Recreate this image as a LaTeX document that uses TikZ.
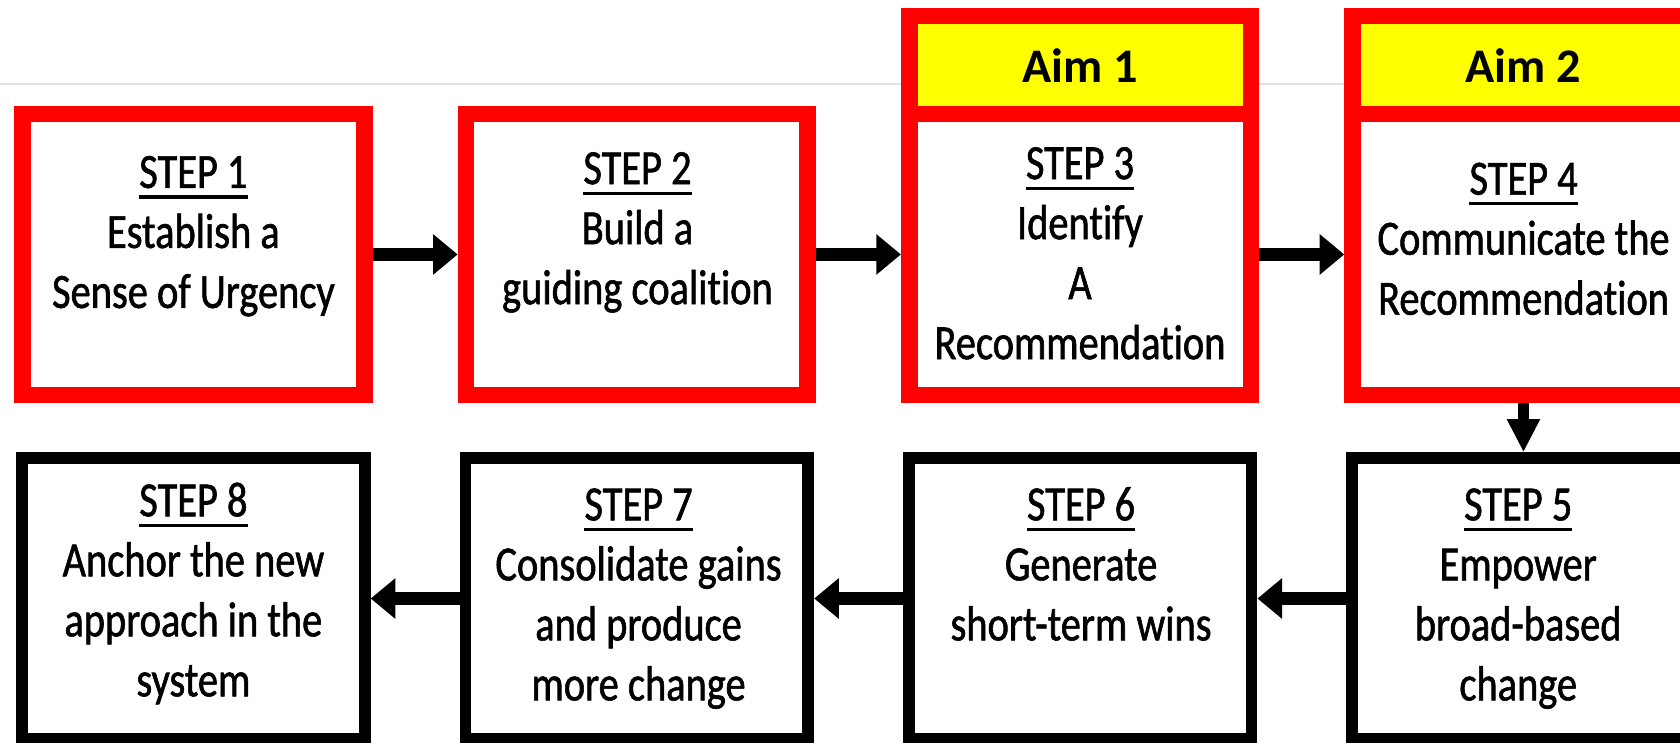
\documentclass[tikz,border=0pt]{standalone}
\usepackage{fontspec}
\setmainfont{Carlito}[Ligatures=NoCommon]
\newfontfamily\stepfont{Carlito}[FakeStretch=0.82,FakeBold=1.2,Ligatures=NoCommon]
\usetikzlibrary{arrows.meta}
\definecolor{aimyellow}{RGB}{255,255,0}
\definecolor{boxred}{RGB}{255,0,0}
\newcommand\stepul[1]{\setbox0\hbox{#1}\rlap{\vrule height -7pt depth 10pt width \wd0}\box0}
\begin{document}
\begin{tikzpicture}[x=1pt,y=-1pt,
  redbox/.style={draw=boxred, line width=15.5pt, minimum width=319pt, minimum height=262pt, inner sep=0pt},
  aimbox/.style={draw=boxred, fill=aimyellow, line width=15.5pt, minimum width=319pt, minimum height=91.5pt, inner sep=0pt, font=\fontsize{45}{55}\selectfont\bfseries},
  blackbox/.style={draw=black, line width=11pt, minimum width=320pt, minimum height=262pt, inner sep=0pt},
  steptext/.style={anchor=north, inner sep=0pt, align=center, font=\stepfont\fontsize{46}{56}\selectfont},
  harrow/.style={line width=12pt, -{Triangle[length=23pt,width=36.5pt]}},
  varrow/.style={line width=10.5pt, -{Triangle[length=31pt,width=29pt]}},
  rule/.style={draw=black!12, line width=2pt}]
\useasboundingbox (0,0) rectangle (1568,693);
\clip (0,0) rectangle (1568,693);
% thin grey rule across the top
\coordinate (gl) at (0,78);
\coordinate (gr) at (1568,78);
\draw[rule] (gl) -- (gr);
% row 1
\node[redbox] (s1) at (180.5,237.5) {};
\node[redbox] (s2) at (594.4,237.5) {};
\node[redbox] (s3) at (1008.1,237.5) {};
\node[redbox] (s4) at (1421.9,237.5) {};
\node[aimbox] (a1) at (1008.1,60.75) {Aim 1};
\node[aimbox] (a2) at (1421.9,60.75) {Aim 2};
% row 2
\node[blackbox] (s8) at (180.5,558.6) {};
\node[blackbox] (s7) at (594.4,558.6) {};
\node[blackbox] (s6) at (1008.1,558.6) {};
\node[blackbox] (s5) at (1421.9,558.6) {};
% texts
\node[steptext] (t1) at (180.5,136) {\strut\stepul{STEP 1}\\\strut Establish a\\\strut Sense of Urgency};
\node[steptext] (t2) at (595,132.5) {\strut\stepul{STEP 2}\\\strut Build a\\\strut guiding coalition};
\node[steptext] (t3) at (1008,127.8) {\strut\stepul{STEP 3}\\\strut Identify\\\strut A\\\strut Recommendation};
\node[steptext] (t4) at (1422,142.3) {\strut\stepul{STEP 4}\\\strut Communicate the\\\strut Recommendation};
\node[steptext] (t5) at (1417,446.3) {\strut\stepul{STEP 5}\\\strut Empower\\\strut broad-based\\\strut change};
\node[steptext] (t6) at (1009,446.3) {\strut\stepul{STEP 6}\\\strut Generate\\\strut short-term wins};
\node[steptext] (t7) at (596,446.3) {\strut\stepul{STEP 7}\\\strut Consolidate gains\\\strut and produce\\\strut more change};
\node[steptext] (t8) at (180.5,442.5) {\strut\stepul{STEP 8}\\\strut Anchor the new\\\strut approach in the\\\strut system};
% arrows
\draw[harrow] (s1.east) -- (s2.west);
\draw[harrow] (s2.east) -- (s3.west);
\draw[harrow] (s3.east) -- (s4.west);
\draw[varrow] (s4.south) -- (s5.north);
\draw[harrow] (s5.west) -- (s6.east);
\draw[harrow] (s6.west) -- (s7.east);
\draw[harrow] (s7.west) -- (s8.east);
\end{tikzpicture}
\end{document}
